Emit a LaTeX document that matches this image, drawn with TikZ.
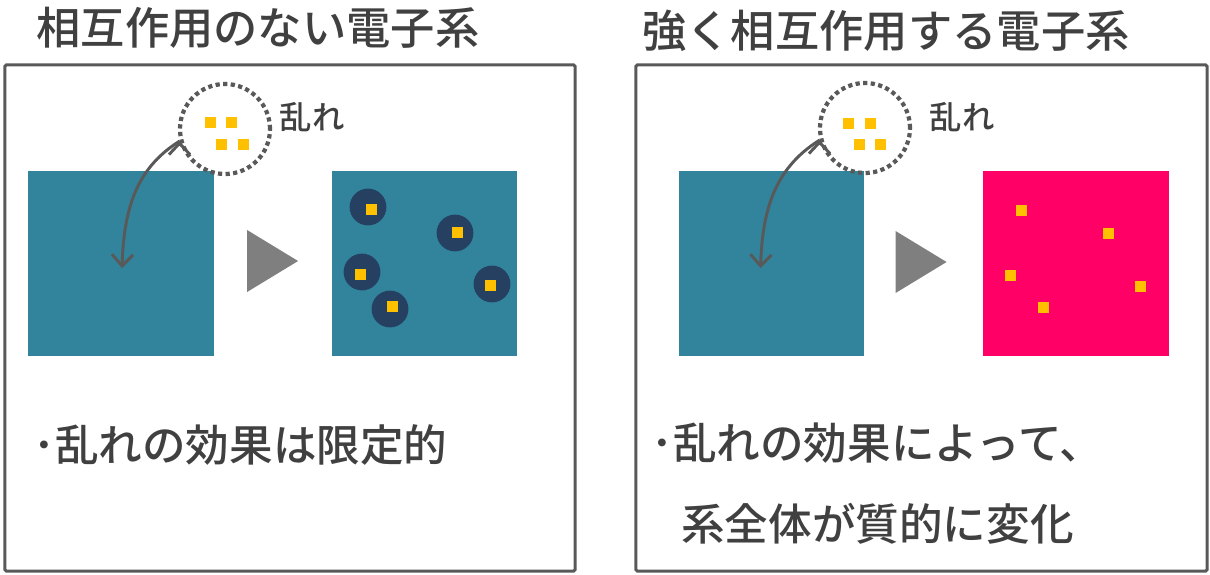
\documentclass[tikz,border=0pt]{standalone}
\usepackage{fontspec}
\setmainfont{Noto Sans CJK JP}[UprightFont={* Medium}]
\usetikzlibrary{arrows.meta,shapes.geometric}
\definecolor{teal1}{HTML}{31849B}
\definecolor{navy1}{HTML}{254061}
\definecolor{gold1}{HTML}{FFC000}
\definecolor{rose1}{HTML}{FF0066}
\definecolor{ink1}{HTML}{404040}
\definecolor{line1}{HTML}{595959}
\definecolor{grey1}{HTML}{7F7F7F}

\begin{document}
\begin{tikzpicture}[x=0.025cm, y=-0.025cm,
			panel/.style={draw=line1, line width=2.1pt, rounded corners=1pt,
				minimum height=12.65cm, inner sep=0},
			head/.style={text=ink1, inner sep=0, font=\fontsize{31.5}{36}\selectfont},
			say/.style={text=ink1, inner sep=0, anchor=west, font=\fontsize{31}{36}\selectfont},
			noise/.style={text=ink1, inner sep=0, font=\fontsize{23}{27}\selectfont},
			sys/.style={fill=#1, minimum size=4.625cm, inner sep=0},
			play/.style={isosceles triangle, isosceles triangle stretches, fill=grey1,
				minimum height=1.275cm, minimum width=1.55cm, inner sep=0},
			hole/.style={circle, fill=navy1, minimum size=0.92cm, inner sep=0},
			bit/.style={fill=gold1, minimum size=0.275cm, inner sep=0},
			cloud/.style={circle, draw=line1, line width=3pt, dash pattern=on 3pt off 2.4pt,
				minimum size=2.25cm, inner sep=0},
			kick/.style={draw=line1, line width=2.1pt, -{Straight Barb[length=8pt, width=15pt]}}]
			\useasboundingbox (0,0) rectangle (1210,574);
			
			% left: no interaction
			\node[head] (t0) at (258,28) {相互作用のない電子系};
			\node[panel, minimum width=14.25cm] (p0) at (290,318) {};
			\node[sys=teal1] (s0) at (121,263.5) {};
			\node[play] (g0) at (264.5,261) {};
			\node[sys=teal1] (s1) at (424.5,263.5) {};
			\node[hole] (h0) at (368,207) {};
			\node[hole] (h1) at (455,233) {};
			\node[hole] (h2) at (362,272) {};
			\node[hole] (h3) at (390,309) {};
			\node[hole] (h4) at (492,284) {};
			\node[bit] (b0) at (371,209) {};
			\node[bit] (b1) at (457,232) {};
			\node[bit] (b2) at (360,274) {};
			\node[bit] (b3) at (392,306) {};
			\node[bit] (b4) at (490,285) {};
			\node[cloud] (c0) at (225,129) {};
			\node[bit] (b5) at (210,122) {};
			\node[bit] (b6) at (231,122) {};
			\node[bit] (b7) at (221,144) {};
			\node[bit] (b8) at (243,144) {};
			\node[noise] (n0) at (312,117) {乱れ};
			\coordinate (k0) at (122,268);
			\node[say] (x0) at (33,445) {･乱れの効果は限定的};
			
			% right: strong interaction
			\node[head] (t1) at (886,31) {強く相互作用する電子系};
			\node[panel, minimum width=14.275cm] (p1) at (921.5,318) {};
			\node[sys=teal1] (s2) at (771.5,263.5) {};
			\node[play] (g1) at (913,262) {};
			\node[sys=rose1] (s3) at (1076,263.5) {};
			\node[bit] (b9) at (1021,210) {};
			\node[bit] (b10) at (1108,233) {};
			\node[bit] (b11) at (1010,275) {};
			\node[bit] (b12) at (1043,307) {};
			\node[bit] (b13) at (1140,286) {};
			\node[cloud] (c1) at (865,128) {};
			\node[bit] (b14) at (848.5,123) {};
			\node[bit] (b15) at (870,123) {};
			\node[bit] (b16) at (859.5,144) {};
			\node[bit] (b17) at (880.5,144) {};
			\node[noise] (n1) at (962,117) {乱れ};
			\coordinate (k1) at (760.5,268);
			\node[say] (x1) at (651,443.5) {･乱れの効果によって、};
			\node[say] (x2) at (681,524) {系全体が質的に変化};
			
			\path[kick] 	(c0.195)  edge[out=212, in=88]   (k0);
			\path[kick] 	(c1.195)  edge[out=212, in=88]   (k1);
			\end{tikzpicture}
\end{document}
